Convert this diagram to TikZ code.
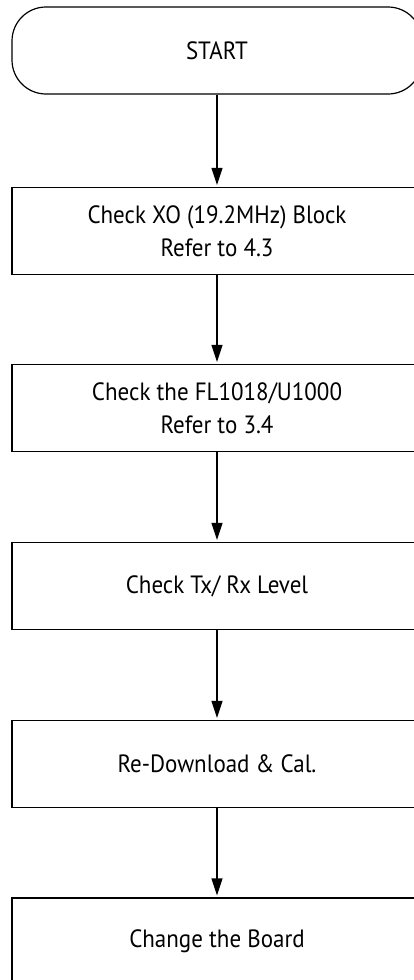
\documentclass[tikz,border=0pt]{standalone}
\usepackage{fontspec}
\setmainfont[FakeStretch=0.92]{PT Sans}
\usetikzlibrary{arrows.meta}

\begin{document}
\begin{tikzpicture}[x=1pt,y=1pt,
    stepbox/.style={draw, line width=1.2pt, rectangle, minimum width=410pt, minimum height=87pt,
      align=center, font=\fontsize{25}{33}\selectfont},
    startbox/.style={stepbox, rounded corners=34pt},
    flow/.style={line width=1.2pt, -{Triangle[length=17pt,width=11pt]}, shorten >=2pt}]
    \useasboundingbox (0,0) rectangle (414,-980);
    \clip (0,0) rectangle (414,-980);
    \node[startbox] (start) at (217,-50.5) {START};
    \node[stepbox] (xo) at (217,-231) {Check XO (19.2MHz) Block\\Refer to 4.3};
    \node[stepbox] (filter) at (217,-408) {Check the FL1018/U1000\\Refer to 3.4};
    \node[stepbox] (level) at (217,-586) {Check Tx/ Rx Level};
    \node[stepbox] (download) at (217,-764) {Re-Download \& Cal.};
    \node[stepbox] (board) at (217,-941.5) {Change the Board};
    \draw[flow] (start) -- (xo);
    \draw[flow] (xo) -- (filter);
    \draw[flow] (filter) -- (level);
    \draw[flow] (level) -- (download);
    \draw[flow] (download) -- (board);
  \end{tikzpicture}
\end{document}
